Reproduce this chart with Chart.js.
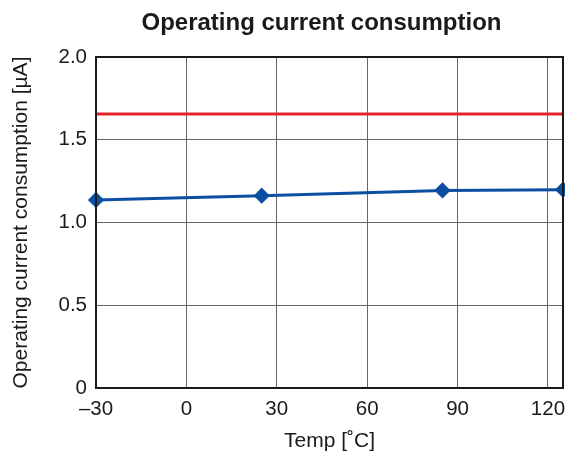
<!DOCTYPE html>
<html>
<head>
<meta charset="utf-8">
<script src="https://cdn.jsdelivr.net/npm/chart.js@4/dist/chart.umd.min.js"></script>
<style>
  html, body { margin: 0; padding: 0; background: #fff; }
  #wrap { width: 565px; height: 454px; }
</style>
</head>
<body>
<div id="wrap"><canvas id="grafico"></canvas></div>
<script>
// dados
const temps = [-30, 25, 85, 125];
const consumo = [1.136, 1.162, 1.194, 1.198];
const limiteX = [-30, 125];
const limiteY = [1.655, 1.655];
const xTicks = [-30, 0, 30, 60, 90, 120];
const yTicks = [0, 0.5, 1.0, 1.5, 2.0];
const titulo = 'Operating current consumption';

const fonte = '"Liberation Sans", Arial, Helvetica, sans-serif';

// moldura preta à volta da área do gráfico + título (centrado um pouco à esquerda, como no original)
const moldura = {
  id: 'moldura',
  afterDatasetsDraw(chart) {
    const { ctx, chartArea: a } = chart;
    ctx.save();
    ctx.strokeStyle = '#1a1a1a';
    ctx.lineWidth = 2;
    ctx.strokeRect(a.left, a.top, a.right - a.left, a.bottom - a.top);
    ctx.fillStyle = '#1a1a1a';
    ctx.font = 'bold 24px ' + fonte;
    ctx.textAlign = 'center';
    ctx.textBaseline = 'middle';
    ctx.fillText(titulo, (a.left + a.right) / 2 - 8, 23);
    ctx.restore();
  }
};

new Chart(document.getElementById('grafico'), {
  type: 'line',
  data: {
    datasets: [
      {
        data: limiteX.map((x, i) => ({ x, y: limiteY[i] })),
        borderColor: '#e3242b',
        borderWidth: 3,
        pointRadius: 0,
        clip: false
      },
      {
        data: temps.map((x, i) => ({ x, y: consumo[i] })),
        borderColor: '#0b4ea2',
        backgroundColor: '#0b4ea2',
        borderWidth: 3,
        pointStyle: 'rectRot',
        pointRadius: 6,
        clip: false
      }
    ]
  },
  options: {
    responsive: true,
    maintainAspectRatio: false,
    animation: false,
    layout: { autoPadding: false, padding: { left: 0, right: 2, top: 57, bottom: 0 } },
    plugins: {
      legend: { display: false },
      tooltip: { enabled: false },
      title: { display: false }
    },
    scales: {
      x: {
        type: 'linear',
        min: -30,
        max: 125,
        afterBuildTicks: (s) => { s.ticks = xTicks.map(v => ({ value: v })); },
        afterFit: (s) => { s.height = 66; s.paddingLeft = 0; s.paddingRight = 0; },
        grid: { color: '#666', lineWidth: 1, drawTicks: false },
        border: { display: false },
        ticks: {
          color: '#1a1a1a',
          padding: 9,
          font: { family: fonte, size: 20.5 },
          callback: (v) => v < 0 ? '–' + Math.abs(v) : String(v)
        },
        title: {
          display: true,
          text: 'Temp [˚C]',
          color: '#1a1a1a',
          font: { family: fonte, size: 21 },
          padding: { top: 2, bottom: 0 }
        }
      },
      y: {
        min: 0,
        max: 2,
        afterBuildTicks: (s) => { s.ticks = yTicks.map(v => ({ value: v })); },
        afterFit: (s) => { s.width = 96; },
        grid: { color: '#666', lineWidth: 1, drawTicks: false },
        border: { display: false },
        ticks: {
          color: '#1a1a1a',
          padding: 9,
          font: { family: fonte, size: 20.5 },
          callback: (v) => v === 0 ? '0' : v.toFixed(1)
        },
        title: {
          display: true,
          text: 'Operating current consumption [µA]',
          color: '#1a1a1a',
          font: { family: fonte, size: 21 },
          padding: { top: 9, bottom: 0 }
        }
      }
    }
  },
  plugins: [moldura]
});
</script>
</body>
</html>
